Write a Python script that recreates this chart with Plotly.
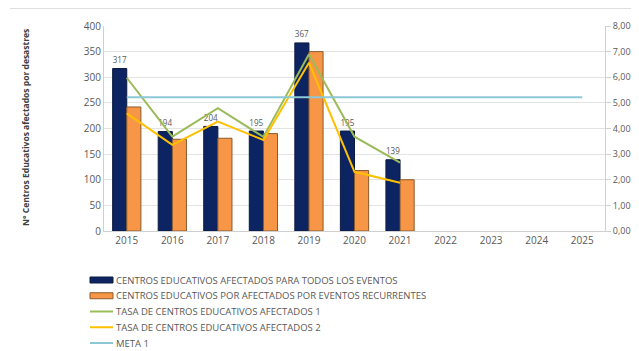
import plotly.graph_objects as go

# data
years = ["2015", "2016", "2017", "2018", "2019", "2020", "2021", "2022", "2023", "2024", "2025"]
todos = [317, 194, 204, 195, 367, 195, 139]
recurrentes = [242, 179, 181, 190, 350, 118, 100]
tasa_1 = [5.98, 3.68, 4.79, 3.67, 6.90, 3.68, 2.67]
tasa_2 = [4.59, 3.36, 4.27, 3.55, 6.57, 2.31, 1.88]
meta_1 = [5.22] * len(years)

names = [
    "CENTROS EDUCATIVOS AFECTADOS PARA TODOS LOS EVENTOS",
    "CENTROS EDUCATIVOS POR AFECTADOS POR EVENTOS RECURRENTES",
    "TASA DE CENTROS EDUCATIVOS AFECTADOS 1",
    "TASA DE CENTROS EDUCATIVOS AFECTADOS 2",
    "META 1",
]
colors = ["#0c2461", "#f79646", "#9bbb59", "#ffc000", "#8cc8d6"]
outlines = ["#0a1a40", "#8a5a2b"]

grey = "#595959"

fig = go.Figure()

fig.add_trace(go.Bar(
    x=years[:len(todos)], y=todos, name=names[0],
    marker=dict(color=colors[0], line=dict(color=outlines[0], width=1)),
    text=[str(v) for v in todos], textposition="outside",
    textfont=dict(size=10, color=grey), cliponaxis=False,
))
fig.add_trace(go.Bar(
    x=years[:len(recurrentes)], y=recurrentes, name=names[1],
    marker=dict(color=colors[1], line=dict(color=outlines[1], width=1)),
))
fig.add_trace(go.Scatter(
    x=years[:len(tasa_1)], y=tasa_1, yaxis="y2", mode="lines", name=names[2],
    line=dict(color=colors[2], width=2),
))
fig.add_trace(go.Scatter(
    x=years[:len(tasa_2)], y=tasa_2, yaxis="y2", mode="lines", name=names[3],
    line=dict(color=colors[3], width=2),
))
fig.add_trace(go.Scatter(
    x=years, y=meta_1, yaxis="y2", mode="lines", name=names[4],
    line=dict(color=colors[4], width=2),
))

# the page body adds 8px on the left/top, so the figure is 8px smaller
# plot area on the page: x 104..605, y 26..231
def px_x(p):
    return (p - 104) / 501

def px_y(p):
    return (231 - p) / 205

# hand-drawn legend below the plot
shapes = [dict(type="line", xref="paper", yref="paper",
               x0=px_x(10), x1=px_x(639), y0=px_y(8), y1=px_y(8),
               line=dict(color="#bdbdbd", width=1))]
annotations = []
for i, (name, col) in enumerate(zip(names, colors)):
    yc = 280 + i * 15.75
    if i < 2:
        shapes.append(dict(type="rect", xref="paper", yref="paper",
                           x0=px_x(90), x1=px_x(113), y0=px_y(yc - 3), y1=px_y(yc + 3),
                           fillcolor=col, line=dict(color=outlines[i], width=1)))
    else:
        shapes.append(dict(type="line", xref="paper", yref="paper",
                           x0=px_x(90), x1=px_x(113), y0=px_y(yc), y1=px_y(yc),
                           line=dict(color=col, width=2)))
    annotations.append(dict(xref="paper", yref="paper", x=px_x(114), y=px_y(yc),
                            xanchor="left", yanchor="middle", showarrow=False,
                            text=name, font=dict(size=9.5, color=grey)))

annotations.append(dict(
    xref="paper", yref="paper", x=px_x(25), y=px_y(128),
    xanchor="center", yanchor="middle", showarrow=False, textangle=-90,
    text="<b>N° Centros Educativos afectados por desastres</b>",
    font=dict(size=8.5, color="#404040"),
))

fig.update_layout(
    width=631, height=343,
    margin=dict(l=96, r=34, t=18, b=120, autoexpand=False),
    paper_bgcolor="white", plot_bgcolor="white",
    font=dict(family="Open Sans, Liberation Sans, sans-serif", size=10, color=grey),
    separators=",.",
    barmode="group", bargap=0.38, bargroupgap=0,
    showlegend=False,
    xaxis=dict(
        type="category", categoryorder="array", categoryarray=years,
        range=[-0.5, len(years) - 0.5],
        showline=True, linecolor="#d0d0d0", ticks="", showgrid=False,
        tickfont=dict(size=10, color=grey),
    ),
    yaxis=dict(
        range=[0, 400], dtick=50, showgrid=True, gridcolor="#e3e3e3",
        showline=True, linecolor="#d0d0d0", ticks="",
        tickfont=dict(size=10, color=grey), zeroline=False,
    ),
    yaxis2=dict(
        overlaying="y", side="right", range=[0, 8], dtick=1,
        tickformat=".2f", showgrid=False, showline=True, linecolor="#d0d0d0",
        ticks="outside", ticklen=5, tickcolor="#d0d0d0",
        tickfont=dict(size=9, color=grey), zeroline=False,
    ),
    shapes=shapes,
    annotations=annotations,
)

fig.write_html("out.html")
